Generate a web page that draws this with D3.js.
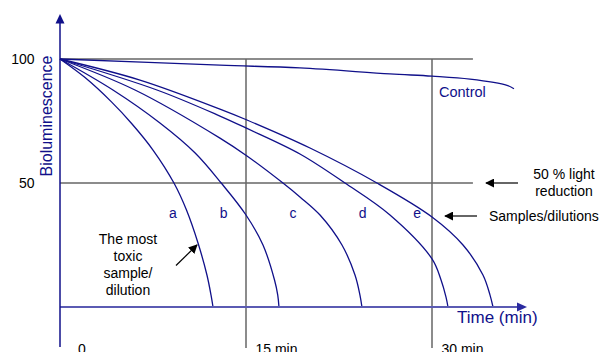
<!DOCTYPE html>
<html>
<head>
<meta charset="utf-8">
<script src="https://cdn.jsdelivr.net/npm/d3@7"></script>
<style>
  html, body { margin: 0; padding: 0; background: #fff; }
  svg { display: block; font-family: "Liberation Sans", Arial, sans-serif; }
</style>
</head>
<body>
<div id="chart"></div>
<script>
// Light output (%) over time (min)
const sampleNames = ["a", "b", "c", "d", "e"];
const sampleA = [[0, 100], [2.02, 92.5], [4.15, 82.7], [5.81, 73.8], [7.5, 63.3], [9.19, 50], [10.2, 39.1], [11.13, 25.8], [11.85, 12.9], [12.18, 4.8], [12.34, 0]];
const sampleB = [[0, 100], [4.27, 87.5], [8.06, 74.2], [10.9, 62.1], [13.0, 50], [15.0, 37.1], [16.37, 25], [17.3, 10.9], [17.56, 4.8], [17.66, 0]];
const sampleC = [[0, 100], [6.05, 87.5], [12.9, 68.1], [15.08, 60.9], [17.98, 50], [19.35, 44.4], [20.97, 37.1], [22.74, 25], [23.79, 12.9], [24.19, 4.8], [24.35, 0]];
const sampleD = [[0, 100], [7.82, 87.5], [12.9, 77.0], [15.08, 72.0], [19.35, 61.7], [22.98, 50], [26.61, 37.1], [30.0, 19.4], [30.73, 10.9], [31.13, 4.0], [31.29, 0]];
const sampleE = [[0, 100], [6.45, 91.5], [12.9, 79.8], [15.08, 75.4], [20.16, 64.1], [25.56, 50], [30.0, 36.3], [32.5, 25], [34.11, 12.9], [34.68, 4.8], [34.92, 0]];
const control = [[0, 100], [12.9, 97.5], [19.35, 96.4], [26.61, 94.0], [30, 93.1], [33.06, 91.9], [36.05, 89.4], [36.61, 88.0]];
// where the letters sit (time, level)
const labelPos = [[9.1, 36], [13.2, 36], [18.8, 36], [24.4, 36], [28.8, 36]];
const yTicks = [100, 50];
const timeTicks = [0, 15, 30];
const timeTickLabels = ["0", "15 min", "30 min"];

const width = 603, height = 352;
const navy = "#10108a";

const svg = d3.select("#chart").append("svg")
    .attr("width", width)
    .attr("height", height);

const x = d3.scaleLinear().domain([0, 30]).range([60, 432]);
const y = d3.scaleLinear().domain([0, 100]).range([307, 59]);

const defs = svg.append("defs");
defs.append("marker")
    .attr("id", "blackArrow")
    .attr("viewBox", "0 0 10 10")
    .attr("refX", 9).attr("refY", 5)
    .attr("markerWidth", 9).attr("markerHeight", 9)
    .attr("markerUnits", "userSpaceOnUse")
    .attr("orient", "auto")
    .append("path")
    .attr("d", "M0,0 L10,5 L0,10 Z")
    .attr("fill", "#000");

// grid lines
const gridColor = "#666";
svg.selectAll(".hgrid")
    .data(yTicks)
    .enter()
    .append("line")
    .attr("x1", x(0)).attr("x2", x(33.3))
    .attr("y1", d => y(d)).attr("y2", d => y(d))
    .attr("stroke", gridColor)
    .attr("stroke-width", 1.5);

svg.selectAll(".vgrid")
    .data(timeTicks.filter(t => t > 0))
    .enter()
    .append("line")
    .attr("x1", d => x(d)).attr("x2", d => x(d))
    .attr("y1", y(100)).attr("y2", 348)
    .attr("stroke", gridColor)
    .attr("stroke-width", 1.5);

// y tick labels
svg.selectAll(".ytick")
    .data(yTicks)
    .enter()
    .append("text")
    .attr("x", 34.5)
    .attr("y", d => y(d) + 5)
    .attr("text-anchor", "end")
    .style("font-size", "14px")
    .text(d => d);

// time tick labels (cut off at the bottom edge, as in the original)
svg.selectAll(".xtick")
    .data(timeTicks)
    .enter()
    .append("text")
    .attr("x", (d, i) => x(d) + (i === 0 ? 18 : 9.5))
    .attr("y", 354)
    .style("font-size", "14px")
    .text((d, i) => timeTickLabels[i]);

// curves
const line = d3.line()
    .x(d => x(d[0]))
    .y(d => y(d[1]))
    .curve(d3.curveCatmullRom.alpha(0.5));

const series = [sampleA, sampleB, sampleC, sampleD, sampleE, control];
svg.selectAll(".curve")
    .data(series)
    .enter()
    .append("path")
    .attr("d", line)
    .attr("fill", "none")
    .attr("stroke", navy)
    .attr("stroke-width", 1.3);

// axes
svg.append("line")
    .attr("x1", x(0)).attr("x2", 519)
    .attr("y1", y(0)).attr("y2", y(0))
    .attr("stroke", "#5b5bb3")
    .attr("stroke-width", 2);
svg.append("path")
    .attr("d", `M527,${y(0)} L517,${y(0) - 4.5} L517,${y(0) + 4.5} Z`)
    .attr("fill", "#2a2aa0");

svg.append("line")
    .attr("x1", x(0)).attr("x2", x(0))
    .attr("y1", 22).attr("y2", 347)
    .attr("stroke", navy)
    .attr("stroke-width", 1.5);
svg.append("path")
    .attr("d", `M${x(0)},14 L${x(0) - 4.5},23.5 L${x(0) + 4.5},23.5 Z`)
    .attr("fill", navy);

// axis titles
svg.append("text")
    .attr("transform", "translate(52,116) rotate(-90)")
    .attr("text-anchor", "middle")
    .style("font-size", "16px")
    .style("fill", navy)
    .text("Bioluminescence");

svg.append("text")
    .attr("x", 457).attr("y", 323)
    .style("font-size", "17px")
    .style("fill", navy)
    .text("Time (min)");

svg.append("text")
    .attr("x", 439).attr("y", 97)
    .style("font-size", "14.5px")
    .style("fill", navy)
    .text("Control");

// sample letters
svg.selectAll(".sample-label")
    .data(sampleNames)
    .enter()
    .append("text")
    .attr("x", (d, i) => x(labelPos[i][0]))
    .attr("y", (d, i) => y(labelPos[i][1]))
    .attr("text-anchor", "middle")
    .style("font-size", "14px")
    .style("fill", navy)
    .text(d => d);

// annotations
const note = svg.append("text")
    .attr("text-anchor", "middle")
    .style("font-size", "14px");
["The most", "toxic", "sample/", "dilution"].forEach((t, i) => {
    note.append("tspan")
        .attr("x", 128)
        .attr("y", 244 + i * 17)
        .text(t);
});

svg.append("line")
    .attr("x1", 176).attr("y1", 265.5)
    .attr("x2", 197).attr("y2", 245)
    .attr("stroke", "#000").attr("stroke-width", 1.2)
    .attr("marker-end", "url(#blackArrow)");

const note2 = svg.append("text")
    .attr("text-anchor", "middle")
    .style("font-size", "14px");
["50 % light", "reduction"].forEach((t, i) => {
    note2.append("tspan")
        .attr("x", 564)
        .attr("y", 179 + i * 17)
        .text(t);
});
svg.append("line")
    .attr("x1", 518).attr("y1", y(50))
    .attr("x2", 486).attr("y2", y(50))
    .attr("stroke", "#000").attr("stroke-width", 1.2)
    .attr("marker-end", "url(#blackArrow)");

svg.append("text")
    .attr("x", 489).attr("y", 221)
    .style("font-size", "14px")
    .text("Samples/dilutions");
svg.append("line")
    .attr("x1", 477).attr("y1", 216)
    .attr("x2", 445).attr("y2", 216)
    .attr("stroke", "#000").attr("stroke-width", 1.2)
    .attr("marker-end", "url(#blackArrow)");
</script>
</body>
</html>
